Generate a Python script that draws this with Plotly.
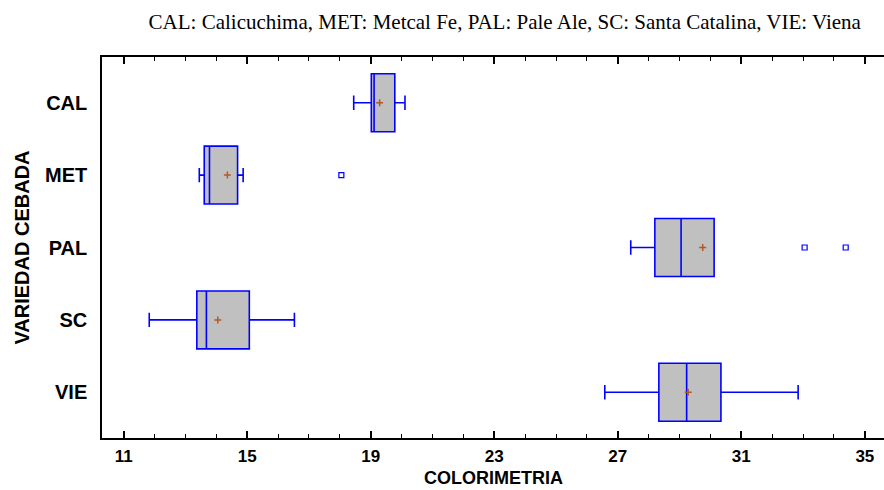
import plotly.graph_objects as go

categories = ["CAL", "MET", "PAL", "SC", "VIE"]
q1 = [19.02, 13.61, 28.20, 13.37, 28.33]
median = [19.11, 13.78, 29.05, 13.68, 29.23]
q3 = [19.78, 14.69, 30.12, 15.07, 30.34]
lower_whisker = [18.45, 13.45, 27.42, 11.83, 26.58]
upper_whisker = [20.11, 14.87, 30.12, 16.53, 32.84]
means = [19.29, 14.36, 29.75, 14.05, 29.28]
outlier_cats = ["MET", "PAL", "PAL"]
outlier_vals = [18.05, 33.05, 34.38]

x_ticks = [11, 15, 19, 23, 27, 31, 35]

fig = go.Figure()
fig.add_trace(go.Box(
    y=categories, q1=q1, median=median, q3=q3,
    lowerfence=lower_whisker, upperfence=upper_whisker,
    orientation="h", width=0.8, whiskerwidth=0.25,
    fillcolor="#C0C0C0", line=dict(color="#0000FF", width=1.6),
    boxpoints=False, showlegend=False, hoverinfo="skip",
))
fig.add_trace(go.Scatter(
    x=means, y=categories, mode="markers",
    marker=dict(symbol="cross-thin", size=5, line=dict(color="#B05A28", width=1.5)),
    showlegend=False, hoverinfo="skip",
))
fig.add_trace(go.Scatter(
    x=outlier_vals, y=outlier_cats, mode="markers",
    marker=dict(symbol="square-open", size=5, color="#0000FF", line=dict(color="#0000FF", width=1.2)),
    showlegend=False, hoverinfo="skip",
))

fig.update_layout(
    width=884, height=490,
    margin=dict(l=102, r=0, t=57, b=52),
    paper_bgcolor="white", plot_bgcolor="white",
    title=dict(
        text="CAL: Calicuchima, MET: Metcal Fe, PAL: Pale Ale, SC: Santa Catalina, VIE: Viena",
        x=0.571, xanchor="center", y=0.955, yanchor="middle",
        font=dict(family="Liberation Serif", size=21, color="black"),
    ),
    annotations=[dict(
        text="COLORIMETRIA", xref="paper", yref="paper", x=0.5, y=-0.1365,
        xanchor="center", yanchor="bottom", showarrow=False,
        font=dict(family="Liberation Sans", size=18, color="black", weight="bold"),
    )],
)
fig.update_xaxes(
    range=[10.30, 35.62], tickvals=x_ticks, ticktext=[str(v) for v in x_ticks],
    showgrid=False, zeroline=False,
    showline=True, linecolor="black", linewidth=1.5, mirror="ticks",
    ticks="inside", ticklen=7, tickwidth=1.5, tickcolor="black",
    minor=dict(dtick=1, tick0=11, ticks="inside", ticklen=4, tickwidth=1, tickcolor="black", showgrid=False),
    tickfont=dict(family="Liberation Sans", size=17, color="black", weight="bold"),
    ticklabelstandoff=2,
)
fig.update_yaxes(
    type="category", categoryorder="array", categoryarray=categories,
    range=[4.632, -0.632],
    showgrid=False, zeroline=False,
    showline=True, linecolor="black", linewidth=1.5, mirror=False,
    ticks="", ticklabelstandoff=9,
    tickfont=dict(family="Liberation Sans", size=20, color="black", weight="bold"),
    title=dict(text="VARIEDAD CEBADA", standoff=10,
               font=dict(family="Liberation Sans", size=20, color="black", weight="bold")),
)

fig.write_html("out.html")
